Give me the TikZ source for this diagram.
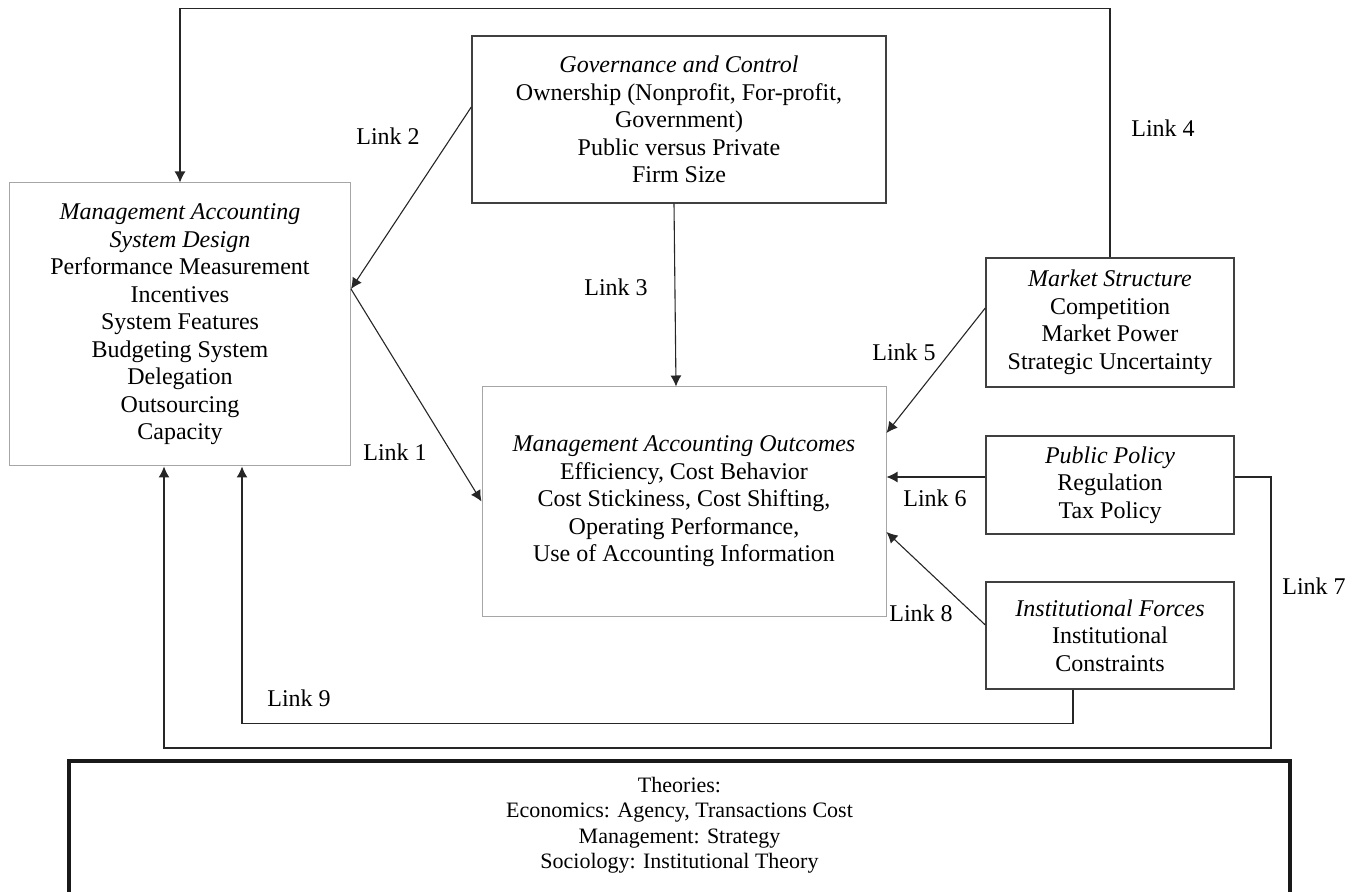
\documentclass[tikz,border=0pt]{standalone}
\usepackage{fontspec}
\setmainfont{Liberation Serif}
\usetikzlibrary{arrows.meta}

\begin{document}
\begin{tikzpicture}[x=0.5pt, y=-0.5pt,
        font=\fontsize{12}{13.75}\selectfont,
        factor/.style={draw=black!75, line width=0.7pt, align=center, inner sep=0pt},
        core/.style={draw=black!35, line width=0.5pt, align=center, inner sep=0pt},
        link/.style={draw=black!85, line width=0.55pt, -{Latex[length=5.5pt,width=5.5pt]}},
        linklabel/.style={inner sep=0pt},
        theorybox/.style={draw=black!90, line width=2pt, line join=miter}]

        \useasboundingbox (0,0) rectangle (1359,892);
        \clip (0,0) rectangle (1359,892);

        \node[core, minimum width=170.5pt, minimum height=141.5pt] (masd) at (180,324.5)
            {\textit{Management Accounting}\\\textit{System Design}\\Performance Measurement\\Incentives\\System Features\\Budgeting System\\Delegation\\Outsourcing\\Capacity};
        \node[factor, minimum width=207pt, minimum height=83.5pt] (gov) at (679,119.5)
            {\textit{Governance and Control}\\Ownership (Nonprofit, For-profit,\\Government)\\Public versus Private\\Firm Size};
        \node[core, minimum width=202pt, minimum height=114.5pt] (out) at (684,501.5)
            {\textit{Management Accounting Outcomes}\\Efficiency, Cost Behavior\\Cost Stickiness, Cost Shifting,\\Operating Performance,\\Use of Accounting Information};
        \node[factor, minimum width=124pt, minimum height=64.5pt] (mkt) at (1110,322.5)
            {\textit{Market Structure}\\Competition\\Market Power\\Strategic Uncertainty};
        \node[factor, minimum width=124pt, minimum height=49pt] (pub) at (1110,485)
            {\textit{Public Policy}\\Regulation\\Tax Policy};
        \node[factor, minimum width=124pt, minimum height=53.5pt] (inst) at (1110,635.5)
            {\textit{Institutional Forces}\\Institutional\\Constraints};

        \node[align=center, inner sep=0pt, font=\fontsize{11}{12.75}\selectfont] (theo) at (679.5,825)
            {Theories:\\Economics: Agency, Transactions Cost\\Management: Strategy\\Sociology: Institutional Theory};
        \draw[theorybox] (69,910) |- (1290,761) -- (1290,910);

        \coordinate (hub) at ([yshift=17.75pt]masd.east);
        \coordinate (c7) at (1271,748);

        \draw[link] ([yshift=6.25pt]gov.west) -- (hub);
        \draw[link] (hub) -- (out.west);
        \draw[link] ([xshift=-2.5pt]gov.south) -- ([xshift=-4pt]out.north);
        \draw[link] (mkt.north) -- ++(0,-249) -| (masd.north);
        \draw[link] ([yshift=7.25pt]mkt.west) -- ([yshift=34.25pt]out.east);
        \draw[link] ([yshift=4pt]pub.west) -- ([yshift=4pt]pub.west -| out.east);
        \draw[link] ([yshift=4pt]pub.east) -| (c7) -| ([xshift=-8pt]masd.south);
        \draw[link] ([yshift=5.25pt]inst.west) -- ([yshift=-15.25pt]out.east);
        \draw[link] ([xshift=-18.5pt]inst.south) -- ++(0,34) -| ([xshift=31pt]masd.south);

        \node[linklabel] (l1) at (395,452) {Link 1};
        \node[linklabel] (l2) at (388,136) {Link 2};
        \node[linklabel] (l3) at (616,287) {Link 3};
        \node[linklabel] (l4) at (1163,128) {Link 4};
        \node[linklabel] (l5) at (904,352) {Link 5};
        \node[linklabel] (l6) at (935,498) {Link 6};
        \node[linklabel] (l7) at (1314,586) {Link 7};
        \node[linklabel] (l8) at (921,613) {Link 8};
        \node[linklabel] (l9) at (299,698) {Link 9};
\end{tikzpicture}
\end{document}
